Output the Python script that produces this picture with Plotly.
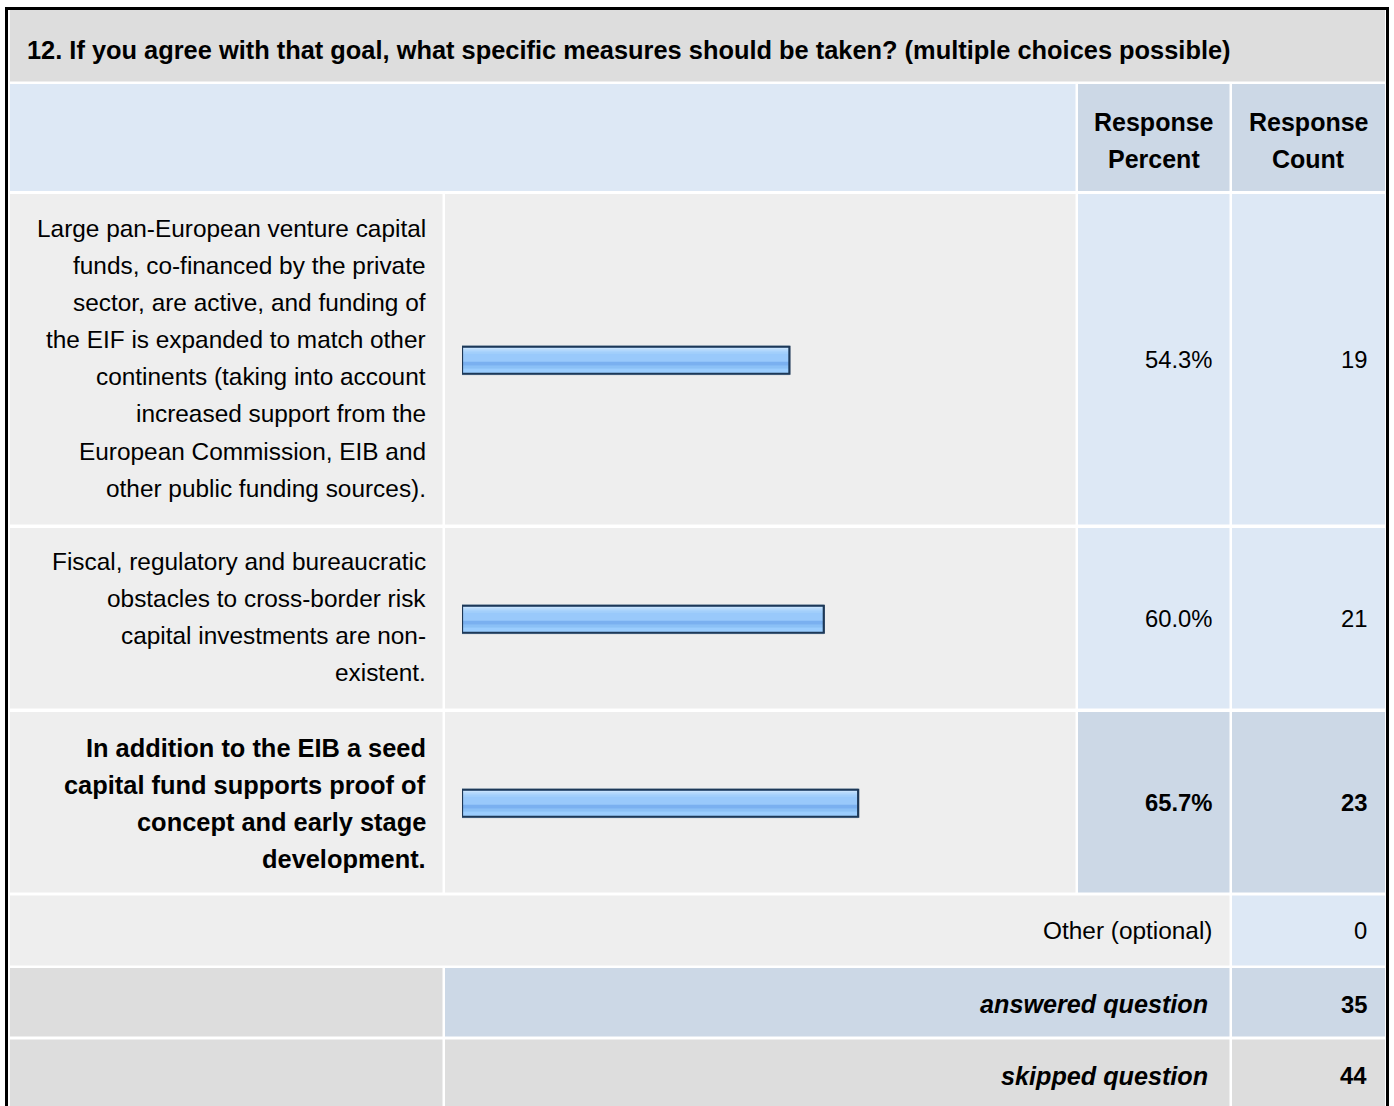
import plotly.graph_objects as go

# ---------------- data ----------------
title_text = "12. If you agree with that goal, what specific measures should be taken? (multiple choices possible)"
header_percent = ["Response", "Percent"]
header_count = ["Response", "Count"]
answer_labels = [
    ["Large pan-European venture capital", "funds, co-financed by the private",
     "sector, are active, and funding of", "the EIF is expanded to match other",
     "continents (taking into account", "increased support from the",
     "European Commission, EIB and", "other public funding sources)."],
    ["Fiscal, regulatory and bureaucratic", "obstacles to cross-border risk",
     "capital investments are non-", "existent."],
    ["In addition to the EIB a seed", "capital fund supports proof of",
     "concept and early stage", "development."],
]
response_percent = [54.3, 60.0, 65.7]
response_count = [19, 21, 23]
other_label = "Other (optional)"
other_count = 0
summary_labels = ["answered question", "skipped question"]
summary_values = [35, 44]

# ---------------- layout constants ----------------
W, H = 1394, 1106
FONT = "Liberation Sans, Arial, Helvetica, sans-serif"
FS = 24.4        # regular text
FSB = 25.4       # bold text
FSN = 23.8       # numbers
LINE = 37.1
C0, C1, C2, C3 = (10, 442.5), (445, 1075.5), (1078, 1229.5), (1232, 1385)
ROW_TITLE = (10, 81.5)
ROW_HEAD = (84, 191)
ROWS = [(194, 524.5), (528, 708.5), (712, 892.5)]
ROW_OTHER = (895.5, 965.5)
ROW_ANS = (968, 1036.5)
ROW_SKIP = (1039.5, 1108)

GREY = "#dddddd"
LIGHT = "#eeeeee"
BLUE = "#dde8f5"
BLUE2 = "#ccd8e6"

fig = go.Figure()
shapes, annots = [], []


def cell(cx, ry, color, extend=0):
    shapes.append(dict(type="rect", xref="x", yref="y", x0=cx[0], x1=cx[1],
                       y0=ry[0], y1=ry[1] + extend, fillcolor=color, line_width=0,
                       layer="below"))


def txt(x, y, s, bold=False, italic=False, anchor="right", size=None):
    if size is None:
        size = FSB if bold else FS
    annots.append(dict(x=x, y=y, xref="x", yref="y", text=s, showarrow=False,
                       xanchor=anchor, yanchor="middle", borderpad=0,
                       font=dict(family=FONT, size=size, color="#000000",
                                 weight="bold" if bold else "normal",
                                 style="italic" if italic else "normal")))


def mid(r):
    return (r[0] + r[1]) / 2


# title
cell((C0[0], C3[1]), ROW_TITLE, GREY)
txt(26, 50, title_text, bold=True, anchor="left", size=25.4)

# header
cell((C0[0], C1[1]), ROW_HEAD, BLUE)
cell(C2, ROW_HEAD, BLUE2)
cell(C3, ROW_HEAD, BLUE2)
for i, (a, b) in enumerate(zip(header_percent, header_count)):
    y = mid(ROW_HEAD) + 3 + (i - 0.5) * LINE
    txt(mid(C2), y, a, bold=True, anchor="center", size=25)
    txt(mid(C3), y, b, bold=True, anchor="center", size=25)

best = response_percent.index(max(response_percent))
bar_y = []
for k, (lines, pct, cnt) in enumerate(zip(answer_labels, response_percent, response_count)):
    r = ROWS[k]
    hi = (k == best)
    cell(C0, r, LIGHT)
    cell(C1, r, LIGHT)
    cell(C2, r, BLUE2 if hi else BLUE)
    cell(C3, r, BLUE2 if hi else BLUE)
    c = mid(r)
    n = len(lines)
    dy = 1 if hi else -1
    for i, s in enumerate(lines):
        txt(427, c + dy + (i - (n - 1) / 2) * LINE, s, bold=hi)
    txt(1213, c, f"{pct:.1f}%", bold=hi, size=FSN)
    txt(1368, c, str(cnt), bold=hi, size=FSN)
    bar_y.append(c + 1)

# other row
cell((C0[0], C2[1]), ROW_OTHER, LIGHT)
cell(C3, ROW_OTHER, BLUE)
txt(1213, mid(ROW_OTHER), other_label)
txt(1368, mid(ROW_OTHER), str(other_count), size=FSN)

# answered / skipped
cell(C0, ROW_ANS, GREY)
cell((C1[0], C2[1]), ROW_ANS, BLUE2)
cell(C3, ROW_ANS, BLUE2)
cell(C0, ROW_SKIP, GREY, extend=40)
cell((C1[0], C2[1]), ROW_SKIP, GREY, extend=40)
cell(C3, ROW_SKIP, GREY, extend=40)
for r, lab, v in zip([ROW_ANS, ROW_SKIP], summary_labels, summary_values):
    txt(1209, mid(r) + 2, lab, bold=True, italic=True, size=25.2)
    txt(1368, mid(r) + 2, str(v), bold=True, size=FSN)

# outer border
shapes.append(dict(type="rect", xref="x", yref="y", x0=6.5, x1=1387.5, y0=8.5,
                   y1=1140, line=dict(color="#000000", width=3),
                   fillcolor="rgba(0,0,0,0)", layer="above"))

# ---------------- bars (gradient stripes) ----------------
BAR_H = 29
stripes = [
    (0, 29, "#99c9fb"),
    (2, 2, "#c6e2fd"),
    (4, 2, "#b2d7fc"),
    (6, 2, "#a3cffb"),
    (16, 4, "#7ab0f0"),
    (20, 3, "#8bc0f6"),
    (23, 4, "#9bcdfe"),
]
for top, h, col in stripes:
    fig.add_trace(go.Bar(x=response_percent, y=bar_y, orientation="h",
                         width=h, offset=-BAR_H / 2 + top,
                         marker=dict(color=col, line_width=0),
                         xaxis="x2", yaxis="y", hoverinfo="skip",
                         showlegend=False))
# shadow + navy outline
fig.add_trace(go.Bar(x=response_percent, y=bar_y, orientation="h",
                     width=BAR_H, offset=-BAR_H / 2,
                     marker=dict(color="rgba(0,0,0,0)",
                                 line=dict(color="rgba(150,160,170,0.5)", width=1)),
                     xaxis="x2", yaxis="y", hoverinfo="skip",
                     showlegend=False))
fig.add_trace(go.Bar(x=response_percent, y=bar_y, orientation="h",
                     width=BAR_H - 2, offset=-BAR_H / 2 + 1,
                     marker=dict(color="rgba(0,0,0,0)",
                                 line=dict(color="#1d3857", width=2.2)),
                     xaxis="x2", yaxis="y", hoverinfo="skip",
                     showlegend=False))

fig.update_layout(
    width=W, height=H,
    margin=dict(l=0, r=0, t=0, b=0, pad=0),
    paper_bgcolor="#ffffff", plot_bgcolor="rgba(0,0,0,0)",
    barmode="overlay",
    xaxis=dict(range=[0, W], domain=[0, 1], visible=False, fixedrange=True),
    xaxis2=dict(range=[0, 100], domain=[462 / W, 1065 / W], anchor="y",
                visible=False, fixedrange=True),
    yaxis=dict(range=[H, 0], domain=[0, 1], visible=False, fixedrange=True),
    shapes=shapes, annotations=annots,
    hovermode=False,
)

fig.write_html("out.html", config={"displayModeBar": False, "staticPlot": True},
               post_script="document.body.style.margin='0';document.body.style.overflow='hidden';")
